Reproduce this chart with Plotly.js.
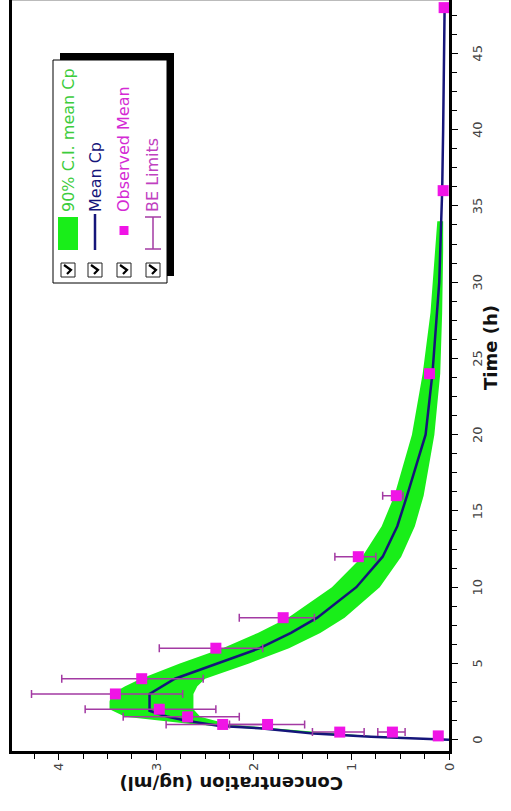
<!DOCTYPE html>
<html><head><meta charset="utf-8">
<script src="https://cdn.plot.ly/plotly-3.0.1.min.js"></script>
<style>
html,body{margin:0;padding:0;width:511px;height:811px;overflow:hidden;background:#fff}
#chart{position:absolute;left:0;top:0;width:811px;height:511px;transform-origin:0 0;transform:translateY(811px) rotate(-90deg);}
</style></head><body><div id="chart"></div>
<script>
// ---- data ----
const bandTime  = [0, 0.25, 0.5, 0.75, 1, 1.5, 2, 2.5, 3, 3.5, 4, 5, 6, 7, 8, 10, 12, 14, 16, 20, 24, 28, 32, 34];
const bandUpper = [0, 0.9, 1.55, 2.1, 2.6, 3.32, 3.48, 3.48, 3.46, 3.32, 3.16, 2.76, 2.32, 1.96, 1.65, 1.20, 0.89, 0.69, 0.56, 0.38, 0.27, 0.19, 0.14, 0.12];
const bandLower = [0, 0.8, 1.35, 1.8, 2.25, 2.55, 2.62, 2.62, 2.62, 2.58, 2.50, 2.05, 1.64, 1.32, 1.07, 0.71, 0.49, 0.35, 0.26, 0.15, 0.09, 0.07, 0.06, 0.06];

const meanTime = [0, 0.1, 0.2, 0.4, 0.5, 0.6, 0.75, 0.9, 1, 1.25, 1.5, 1.9, 2, 3, 4, 5, 6, 7, 8, 10, 12, 14, 16, 20, 24, 30, 36, 40, 48];
const meanConc = [0, 0.40, 0.80, 1.39, 1.55, 1.67, 1.94, 2.35, 2.45, 2.69, 2.88, 3.07, 3.07, 3.07, 2.81, 2.38, 1.94, 1.62, 1.35, 0.95, 0.68, 0.53, 0.43, 0.24, 0.17, 0.10, 0.07, 0.06, 0.045];

const obsTime  = [0.25, 0.5, 0.5, 1, 1, 1.5, 2, 3, 4, 6, 8, 12, 16, 24, 36, 48];
const obsMean  = [0.11, 0.58, 1.12, 1.86, 2.32, 2.68, 2.97, 3.42, 3.15, 2.39, 1.70, 0.93, 0.54, 0.20, 0.06, 0.05];
const beUpper  = [0.14, 0.73, 1.40, 2.25, 2.90, 3.34, 3.73, 4.28, 3.97, 2.97, 2.15, 1.17, 0.68, 0.22, 0.07, 0.06];
const beLower  = [0.08, 0.45, 0.87, 1.48, 1.86, 2.15, 2.39, 2.73, 2.52, 1.91, 1.38, 0.75, 0.47, 0.18, 0.05, 0.04];

const legendLabels = ["90% C.I. mean Cp", "Mean Cp", "Observed Mean", "BE Limits"];
const xTicks = [0, 5, 10, 15, 20, 25, 30, 35, 40, 45];
const yTicks = [0, 1, 2, 3, 4];

// ---- colours ----
const cBand = '#19ee19', cMean = '#15157a', cObs = '#f014e6', cBE = '#a33aa3';

// ---- geometry (unrotated chart, px) ----
const W = 811, H = 511, ML = 60, MR = 0, MT = 12, MB = 62;
const PW = W - ML - MR, PH = H - MT - MB;
const px = x => (x - ML) / PW;          // pixel -> paper x
const py = y => (H - MB - y) / PH;      // pixel -> paper y

const traces = [
  {x: bandTime.concat(bandTime.slice().reverse()),
   y: bandUpper.concat(bandLower.slice().reverse()),
   type: 'scatter', mode: 'lines', fill: 'toself', fillcolor: cBand,
   line: {width: 0, color: cBand}, hoverinfo: 'skip', showlegend: false},
  {x: meanTime, y: meanConc, type: 'scatter', mode: 'lines',
   line: {color: cMean, width: 2.5}, showlegend: false},
  {x: obsTime, y: obsMean, type: 'scatter', mode: 'markers',
   marker: {symbol: 'square', size: 11, color: cObs},
   error_y: {type: 'data', symmetric: false,
     array: beUpper.map((u, i) => u - obsMean[i]),
     arrayminus: obsMean.map((m, i) => m - beLower[i]),
     color: cBE, thickness: 1.5, width: 4},
   showlegend: false}
];

// ---- legend (drawn) ----
const shapes = [];
const ann = [];
const lx0 = 528, lx1 = 751, ly0 = 53, ly1 = 167, sh = 7;
shapes.push({type:'line', xref:'paper', yref:'paper', x0:px(810.5), x1:px(810.5), y0:py(MT), y1:py(H-MB), line:{color:'#bbb', width:1}});
shapes.push({type:'rect', xref:'paper', yref:'paper', x0:px(lx0+sh), x1:px(lx1+sh), y0:py(ly0+sh), y1:py(ly1+sh), fillcolor:'#000', line:{width:0}});
shapes.push({type:'rect', xref:'paper', yref:'paper', x0:px(lx0), x1:px(lx1), y0:py(ly0), y1:py(ly1), fillcolor:'#fff', line:{color:'#000', width:1}});
const rowY = [68, 95, 124, 153];
const textCol = ['#3ccc3c', '#15157a', '#d42ad4', '#c040c0'];
rowY.forEach((y, i) => {
  shapes.push({type:'rect', xref:'paper', yref:'paper', x0:px(534), x1:px(548), y0:py(y-7), y1:py(y+7), fillcolor:'#fff', line:{color:'#222', width:1}});
  shapes.push({type:'path', xref:'paper', yref:'paper',
    path:`M${px(537)},${py(y-1)} L${px(541)},${py(y+3)} L${px(546)},${py(y-4)}`, line:{color:'#000', width:2.2}});
  ann.push({xref:'paper', yref:'paper', x:px(597), y:py(y), text:legendLabels[i], showarrow:false,
    xanchor:'left', yanchor:'middle', font:{family:'DejaVu Sans', size:16, color:textCol[i]}});
});
shapes.push({type:'rect', xref:'paper', yref:'paper', x0:px(561), x1:px(594), y0:py(58), y1:py(78), fillcolor:cBand, line:{width:0}});
shapes.push({type:'line', xref:'paper', yref:'paper', x0:px(561), x1:px(597), y0:py(95), y1:py(95), line:{color:cMean, width:2.5}});
shapes.push({type:'rect', xref:'paper', yref:'paper', x0:px(576), x1:px(585), y0:py(119.5), y1:py(128.5), fillcolor:cObs, line:{width:0}});
shapes.push({type:'line', xref:'paper', yref:'paper', x0:px(562), x1:px(594), y0:py(153), y1:py(153), line:{color:cBE, width:1.5}});
shapes.push({type:'line', xref:'paper', yref:'paper', x0:px(562), x1:px(562), y0:py(145), y1:py(161), line:{color:cBE, width:1.5}});
shapes.push({type:'line', xref:'paper', yref:'paper', x0:px(594), x1:px(594), y0:py(145), y1:py(161), line:{color:cBE, width:1.5}});

// axis titles
ann.push({xref:'paper', yref:'paper', x:px(463), y:py(490), text:'<b>Time (h)</b>', showarrow:false,
  xanchor:'center', yanchor:'middle', font:{family:'DejaVu Sans', size:18, color:'#111'}});
ann.push({xref:'paper', yref:'paper', x:px(27), y:py(231), text:'<b>Concentration (ug/ml)</b>', showarrow:false, textangle:-90,
  xanchor:'center', yanchor:'middle', font:{family:'DejaVu Sans', size:18, color:'#111'}});

const layout = {
  width: W, height: H, margin: {l: ML, r: MR, t: MT, b: MB},
  paper_bgcolor: '#fff', plot_bgcolor: '#fff', showlegend: false,
  xaxis: {range: [-0.74, 48.5], tickvals: xTicks, ticks: 'outside', ticklen: 6, tickwidth: 1, tickcolor: '#000',
    showline: true, linecolor: '#000', linewidth: 3, mirror: true, showgrid: false, zeroline: false,
    ticklabelstandoff: 8, tickfont: {family: 'DejaVu Sans', size: 13, color: '#444'},
    minor: {dtick: 1.25, tick0: 0, ticks: 'outside', ticklen: 5, tickcolor: '#000', showgrid: false}},
  yaxis: {range: [0, 4.48], tickvals: yTicks, ticks: 'outside', ticklen: 6, tickwidth: 1, tickcolor: '#000',
    showline: true, linecolor: '#000', linewidth: 3, mirror: false, showgrid: false, zeroline: false,
    tickfont: {family: 'DejaVu Sans', size: 13, color: '#444'},
    minor: {dtick: 0.25, tick0: 0, ticks: 'outside', ticklen: 5, tickcolor: '#000', showgrid: false}},
  shapes: shapes, annotations: ann
};
Plotly.newPlot('chart', traces, layout, {displayModeBar: false, staticPlot: true});
</script></body></html>
